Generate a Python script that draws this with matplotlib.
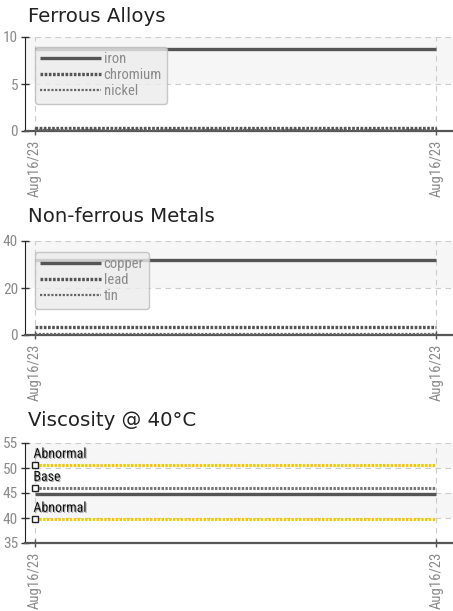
import matplotlib
matplotlib.use("Agg")
import matplotlib.pyplot as plt
import matplotlib.dates as mdates
import matplotlib.patheffects as pe
from matplotlib import font_manager
import pandas as pd

# data
dates = pd.to_datetime(["2023-08-16 08:00", "2023-08-16 20:00"])

ferrous_names = ["iron", "chromium", "nickel"]
iron = [8.7, 8.7]
chromium = [0.32, 0.32]
nickel = [0.1, 0.1]

nonferrous_names = ["copper", "lead", "tin"]
copper = [32.0, 32.0]
lead = [3.3, 3.3]
tin = [0.4, 0.4]

visc = [44.8, 44.8]
visc_base = 46.0
visc_abn_high = 50.6
visc_abn_low = 39.8

ferrous_ticks = [0, 5, 10]
nonferrous_ticks = [0, 20, 40]
visc_ticks = [35, 40, 45, 50, 55]

# look for a narrow face for the ticks / legend
names = {f.name for f in font_manager.fontManager.ttflist}
if "Liberation Sans Narrow" in names:
    NARROW = dict(family="Liberation Sans Narrow")
elif "Roboto Condensed" in names:
    NARROW = dict(family="Roboto Condensed")
else:
    NARROW = dict(family="Roboto")

TICKCOL = "#8a8a8a"
LINECOL = "#555555"
YELLOW = "#f5c800"

W, H = 453, 611
fig = plt.figure(figsize=(W / 100, H / 100), dpi=100)


def make_axes(top_px, bottom_px):
    return fig.add_axes([25 / W, 1 - bottom_px / H, (W - 25) / W, (bottom_px - top_px) / H])


def style_axes(ax, ticks, title, title_y):
    x0, x1 = mdates.date2num(dates[0]), mdates.date2num(dates[-1])
    span = x1 - x0
    ax.set_xlim(x0 - span * 10 / 411, x0 + span * 428 / 411)
    ax.set_ylim(ticks[0], ticks[-1])
    # alternating bands from the top
    for i in range(len(ticks) - 1, 0, -2):
        ax.axhspan(ticks[i - 1], ticks[i], color="#f6f6f6", zorder=0, lw=0)
    for t in ticks[1:]:
        ax.axhline(t, color="#cccccc", lw=0.8, ls=(0, (5, 4)), zorder=0.5)
    for d in dates:
        ax.axvline(mdates.date2num(d), color="#cccccc", lw=0.8, ls=(0, (5, 4)), zorder=0.5)
    ax.set_yticks(ticks)
    ax.set_xticks(mdates.date2num(dates))
    ax.xaxis.set_major_formatter(mdates.DateFormatter("%b%d/%y"))
    for lab in ax.get_yticklabels():
        lab.set(color=TICKCOL, fontsize=11, **NARROW)
    for lab in ax.get_xticklabels():
        lab.set(color=TICKCOL, fontsize=10.5, rotation=90, **NARROW)
    ax.tick_params(axis="y", direction="inout", length=6, width=1, color="#333333", pad=2)
    ax.tick_params(axis="x", direction="inout", length=6, width=1, color="#555555", pad=3)
    ax.spines["top"].set_visible(False)
    ax.spines["right"].set_visible(False)
    ax.spines["left"].set_color("#222222")
    ax.spines["bottom"].set_color("#555555")
    ax.spines["bottom"].set_linewidth(1.6)
    ax.patch.set_alpha(0)
    fig.text(28 / W, 1 - title_y / H, title, fontsize=14.2, family="DejaVu Sans",
             color="#222222", va="center", ha="left")


def add_legend(ax, top_px, axes_top, axes_bottom):
    ytop = (axes_bottom - top_px) / (axes_bottom - axes_top)
    leg = ax.legend(loc="upper left", bbox_to_anchor=(10 / 428, ytop), borderaxespad=0,
                    handlelength=4.2, handletextpad=0.15, labelspacing=0.15, borderpad=0.35,
                    fancybox=True, framealpha=0.8, facecolor="#ececec", edgecolor="#bbbbbb",
                    prop=dict(size=10.5, **NARROW))
    for txt in leg.get_texts():
        txt.set_color(TICKCOL)
    leg.set_zorder(10)


solid = dict(color=LINECOL, lw=2.4, ls="-", solid_capstyle="butt")
square = dict(color=LINECOL, lw=2.4, ls=(0, (0.8, 0.45)))
fine = dict(color="#666666", lw=1.6, ls=(0, (1.0, 0.7)))

# Ferrous Alloys
ax1 = make_axes(37, 131)
style_axes(ax1, ferrous_ticks, "Ferrous Alloys", 17)
ax1.plot(dates, iron, label=ferrous_names[0], zorder=3, **solid)
ax1.plot(dates, chromium, label=ferrous_names[1], zorder=3, **square)
ax1.plot(dates, nickel, label=ferrous_names[2], zorder=3, **fine)
add_legend(ax1, 47, 37, 131)

# Non-ferrous Metals
ax2 = make_axes(241, 335)
style_axes(ax2, nonferrous_ticks, "Non-ferrous Metals", 217)
ax2.plot(dates, copper, label=nonferrous_names[0], zorder=3, **solid)
ax2.plot(dates, lead, label=nonferrous_names[1], zorder=3, **square)
ax2.plot(dates, tin, label=nonferrous_names[2], zorder=3, **fine)
add_legend(ax2, 252, 241, 335)

# Viscosity
ax3 = make_axes(443, 543)
style_axes(ax3, visc_ticks, "Viscosity @ 40°C", 420)
ax3.plot(dates, visc, zorder=3, **solid)
ref_lines = [(visc_abn_high, "Abnormal", YELLOW), (visc_base, "Base", "#777777"),
             (visc_abn_low, "Abnormal", YELLOW)]
for val, name, col in ref_lines:
    ax3.plot(dates, [val, val], color=col, lw=2.2, ls=(0, (0.8, 0.45)), zorder=3)
    ax3.plot(dates[:1], [val], marker="s", ms=4.5, mfc="white", mec="#222222", mew=1,
             ls="none", zorder=5, clip_on=False)
    ax3.annotate(name, (mdates.date2num(dates[0]), val), xytext=(-1, 3),
                 textcoords="offset points", fontsize=10, color="#111111",
                 ha="left", va="bottom", zorder=6, **NARROW,
                 path_effects=[pe.withSimplePatchShadow(offset=(0.8, -0.8),
                                                        shadow_rgbFace="#999999", alpha=0.8)])

fig.savefig("out.png", dpi=100)
